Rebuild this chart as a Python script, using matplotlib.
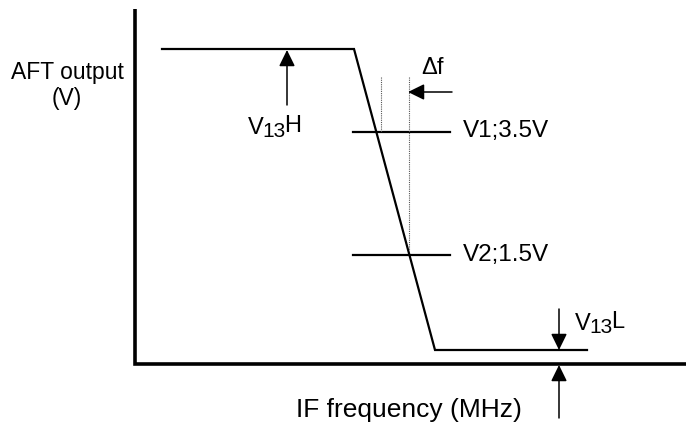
import matplotlib
matplotlib.use("Agg")
import matplotlib.pyplot as plt

plt.rcParams['font.family'] = ['Liberation Sans', 'DejaVu Sans']

# Diagram geometry (pixel-like diagram units, y grows downward)
axis_x = [135, 135, 686]
axis_y = [9, 364, 364]

curve_x = [162, 354, 435, 587]
curve_y = [49, 49, 350, 350]

level_x = [353, 450]
v1_y = 132
v2_y = 255

dotted_x = [381, 409]
dotted_top = [77, 77]
dotted_bottom = [132, 250]

# arrows: (tail_x, tail_y, tip_x, tip_y)
arrows = [
    (287, 105, 287, 50),     # V13H
    (452, 92, 408, 92),      # delta f
    (559, 309, 559, 350),    # V13L
    (559, 418, 559, 365),    # bottom
]

labels = [
    ("AFT output", 67, 73, 'center', 16.5),
    ("(V)", 67, 98, 'center', 16.5),
    ("Δf", 432, 68, 'center', 17),
    ("V1;3.5V", 463, 131, 'left', 17.5),
    ("V2;1.5V", 463, 255, 'left', 17.5),
    ("IF frequency (MHz)", 409, 410, 'center', 19),
]

# subscripted labels: (main, sub, tail, x, baseline_y)
sub_labels = [
    ("V", "13", "H", 248, 134),
    ("V", "13", "L", 575, 330),
]

fig = plt.figure(figsize=(6.86, 4.23), dpi=100)
ax = fig.add_axes([0, 0, 1, 1])
ax.set_xlim(0, 686)
ax.set_ylim(423, 0)
ax.axis('off')

ax.plot(axis_x, axis_y, color='black', lw=2.6, solid_joinstyle='miter',
        solid_capstyle='butt')
ax.plot(curve_x, curve_y, color='black', lw=1.6, solid_joinstyle='miter')
ax.plot(level_x, [v1_y, v1_y], color='black', lw=1.6)
ax.plot(level_x, [v2_y, v2_y], color='black', lw=1.6)
for dx, t, b in zip(dotted_x, dotted_top, dotted_bottom):
    ax.plot([dx, dx], [t, b], color='#555555', lw=0.8, linestyle=(0, (1, 1)))

for tx, ty, hx, hy in arrows:
    ax.annotate('', xy=(hx, hy), xytext=(tx, ty),
                arrowprops=dict(arrowstyle='-|>,head_length=0.55,head_width=0.27',
                                color='black', lw=1.1, shrinkA=0, shrinkB=0,
                                mutation_scale=18))

for text, x, y, ha, fs in labels:
    ax.text(x, y, text, ha=ha, va='center', fontsize=fs, color='black')

for main, sub, tail, x, y in sub_labels:
    t1 = ax.text(x, y, main, ha='left', va='baseline', fontsize=17)
    t2 = ax.annotate(sub, xy=(1, 0), xycoords=t1, xytext=(-1.2, -1.5),
                     textcoords='offset points', ha='left', va='bottom',
                     fontsize=15)
    ax.annotate(tail, xy=(1, 0), xycoords=t2, xytext=(-1.0, 2.8),
                textcoords='offset points', ha='left', va='bottom',
                fontsize=17)

fig.savefig('out.png', dpi=100)
